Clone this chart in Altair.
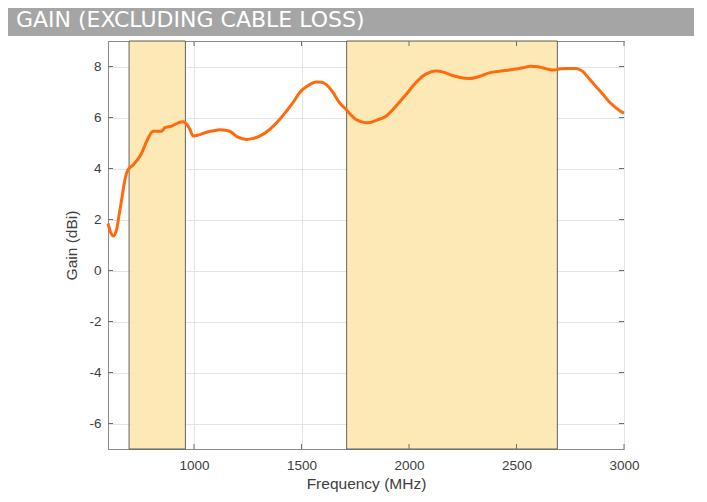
import altair as alt
import pandas as pd

# ---- data ----
freq_mhz = [600, 612, 625, 640, 652, 664, 679, 690, 718, 748, 756, 780, 810, 849, 865,
            896, 926, 949, 968, 980, 996, 1027, 1058, 1090, 1120, 1145, 1166, 1205,
            1244, 1275, 1305, 1352, 1398, 1430, 1460, 1491, 1506, 1540, 1568, 1595,
            1615, 1645, 1677, 1708, 1730, 1754, 1780, 1808, 1850, 1893, 1940, 1986,
            2025, 2063, 2100, 2125, 2160, 2187, 2233, 2281, 2330, 2373, 2430, 2481,
            2530, 2566, 2600, 2620, 2674, 2705, 2740, 2775, 2806, 2840, 2868, 2900,
            2929, 2960, 2988, 3000]
gain_dbi = [1.85, 1.5, 1.35, 1.6, 2.2, 2.8, 3.57, 3.9, 4.15, 4.48, 4.6, 5.07, 5.46, 5.46,
            5.6, 5.66, 5.79, 5.83, 5.72, 5.55, 5.27, 5.33, 5.42, 5.48, 5.52, 5.5, 5.46,
            5.23, 5.14, 5.18, 5.27, 5.53, 5.92, 6.25, 6.58, 6.97, 7.1, 7.3, 7.39, 7.38,
            7.29, 7.0, 6.58, 6.31, 6.1, 5.92, 5.83, 5.79, 5.9, 6.05, 6.45, 6.9, 7.3,
            7.62, 7.78, 7.82, 7.78, 7.69, 7.58, 7.53, 7.62, 7.75, 7.82, 7.88, 7.95,
            8.01, 7.99, 7.95, 7.86, 7.91, 7.92, 7.92, 7.82, 7.5, 7.23, 6.93, 6.64,
            6.4, 6.22, 6.17]

band_start = [698, 1710]
band_end = [960, 2690]

x_ticks = [1000, 1500, 2000, 2500, 3000]
y_ticks = [-6, -4, -2, 0, 2, 4, 6, 8]
x_domain = [600, 3000]
y_domain = [-7, 9]

title_text = "GAIN (EXCLUDING CABLE LOSS)"

W, H = 516, 408
PAD_L, PAD_T = 100, 33

curve = pd.DataFrame({"f": freq_mhz, "g": gain_dbi})
bands = pd.DataFrame({"start": band_start, "end": band_end,
                      "top": [y_domain[1]] * len(band_start),
                      "bot": [y_domain[0]] * len(band_start)})
xt = pd.DataFrame({"f": x_ticks})
yt = pd.DataFrame({"g": y_ticks})
one = pd.DataFrame({"k": [0]})

xscale = alt.Scale(domain=x_domain, nice=False, zero=False)
yscale = alt.Scale(domain=y_domain, nice=False, zero=False)

label_font = "Liberation Sans"
text_col = "#404040"

x_axis = alt.Axis(values=x_ticks, title="Frequency (MHz)", grid=True, gridColor="#e4e4e4",
                  tickSize=0, domainColor="#8a8a8a", labelFont=label_font,
                  labelFontSize=13.5, labelColor=text_col, labelPadding=9,
                  labelExpr="'' + datum.value",
                  titleFont=label_font, titleFontSize=15.5, titleFontWeight="normal",
                  titleColor=text_col, titlePadding=5, labelFlush=False)
y_axis = alt.Axis(values=y_ticks, title="Gain (dBi)", grid=True, gridColor="#e4e4e4",
                  tickSize=0, domainColor="#8a8a8a", labelFont=label_font,
                  labelFontSize=13.5, labelColor=text_col, labelPadding=7,
                  labelExpr="'' + datum.value",
                  titleFont=label_font, titleFontSize=15.5, titleFontWeight="normal",
                  titleColor=text_col, titlePadding=9)

band_layer = alt.Chart(bands).mark_rect(fill="#fde8b0", stroke="#555555",
                                        strokeWidth=1, opacity=0.92).encode(
    x=alt.X("start:Q", scale=xscale, axis=x_axis),
    x2="end:Q",
    y=alt.Y("top:Q", scale=yscale, axis=y_axis),
    y2="bot:Q",
)

line_layer = alt.Chart(curve).mark_line(color="#ff6a0d", strokeWidth=3,
                                        interpolate="monotone").encode(
    x=alt.X("f:Q", scale=xscale),
    y=alt.Y("g:Q", scale=yscale),
)

tick_style = dict(color="#6e6e6e", strokeWidth=1)
xb = alt.Chart(xt).mark_rule(**tick_style).encode(
    x=alt.X("f:Q", scale=xscale), y=alt.value(H), y2=alt.value(H - 5))
xtp = alt.Chart(xt).mark_rule(**tick_style).encode(
    x=alt.X("f:Q", scale=xscale), y=alt.value(0), y2=alt.value(5))
yl = alt.Chart(yt).mark_rule(**tick_style).encode(
    y=alt.Y("g:Q", scale=yscale), x=alt.value(0), x2=alt.value(5))
yr = alt.Chart(yt).mark_rule(**tick_style).encode(
    y=alt.Y("g:Q", scale=yscale), x=alt.value(W), x2=alt.value(W - 5))

bar = alt.Chart(one).mark_rect(color="#a5a5a5").encode(
    x=alt.value(-PAD_L), x2=alt.value(592), y=alt.value(-PAD_T), y2=alt.value(-5))
title = alt.Chart(one).mark_text(text=title_text, align="left", baseline="middle",
                                 color="white", font="DejaVu Sans", fontSize=22).encode(
    x=alt.value(-PAD_L + 8), y=alt.value(-PAD_T + 12))

chart = alt.layer(band_layer, line_layer, xb, xtp, yl, yr, bar, title).properties(
    width=W, height=H,
    autosize=alt.AutoSizeParams(type="none"),
    padding={"left": PAD_L, "top": PAD_T, "right": 70, "bottom": 45},
    background="white",
).configure_view(stroke="#8a8a8a", strokeWidth=1)

chart.save("out.html", embed_options={"renderer": "svg", "actions": False})
